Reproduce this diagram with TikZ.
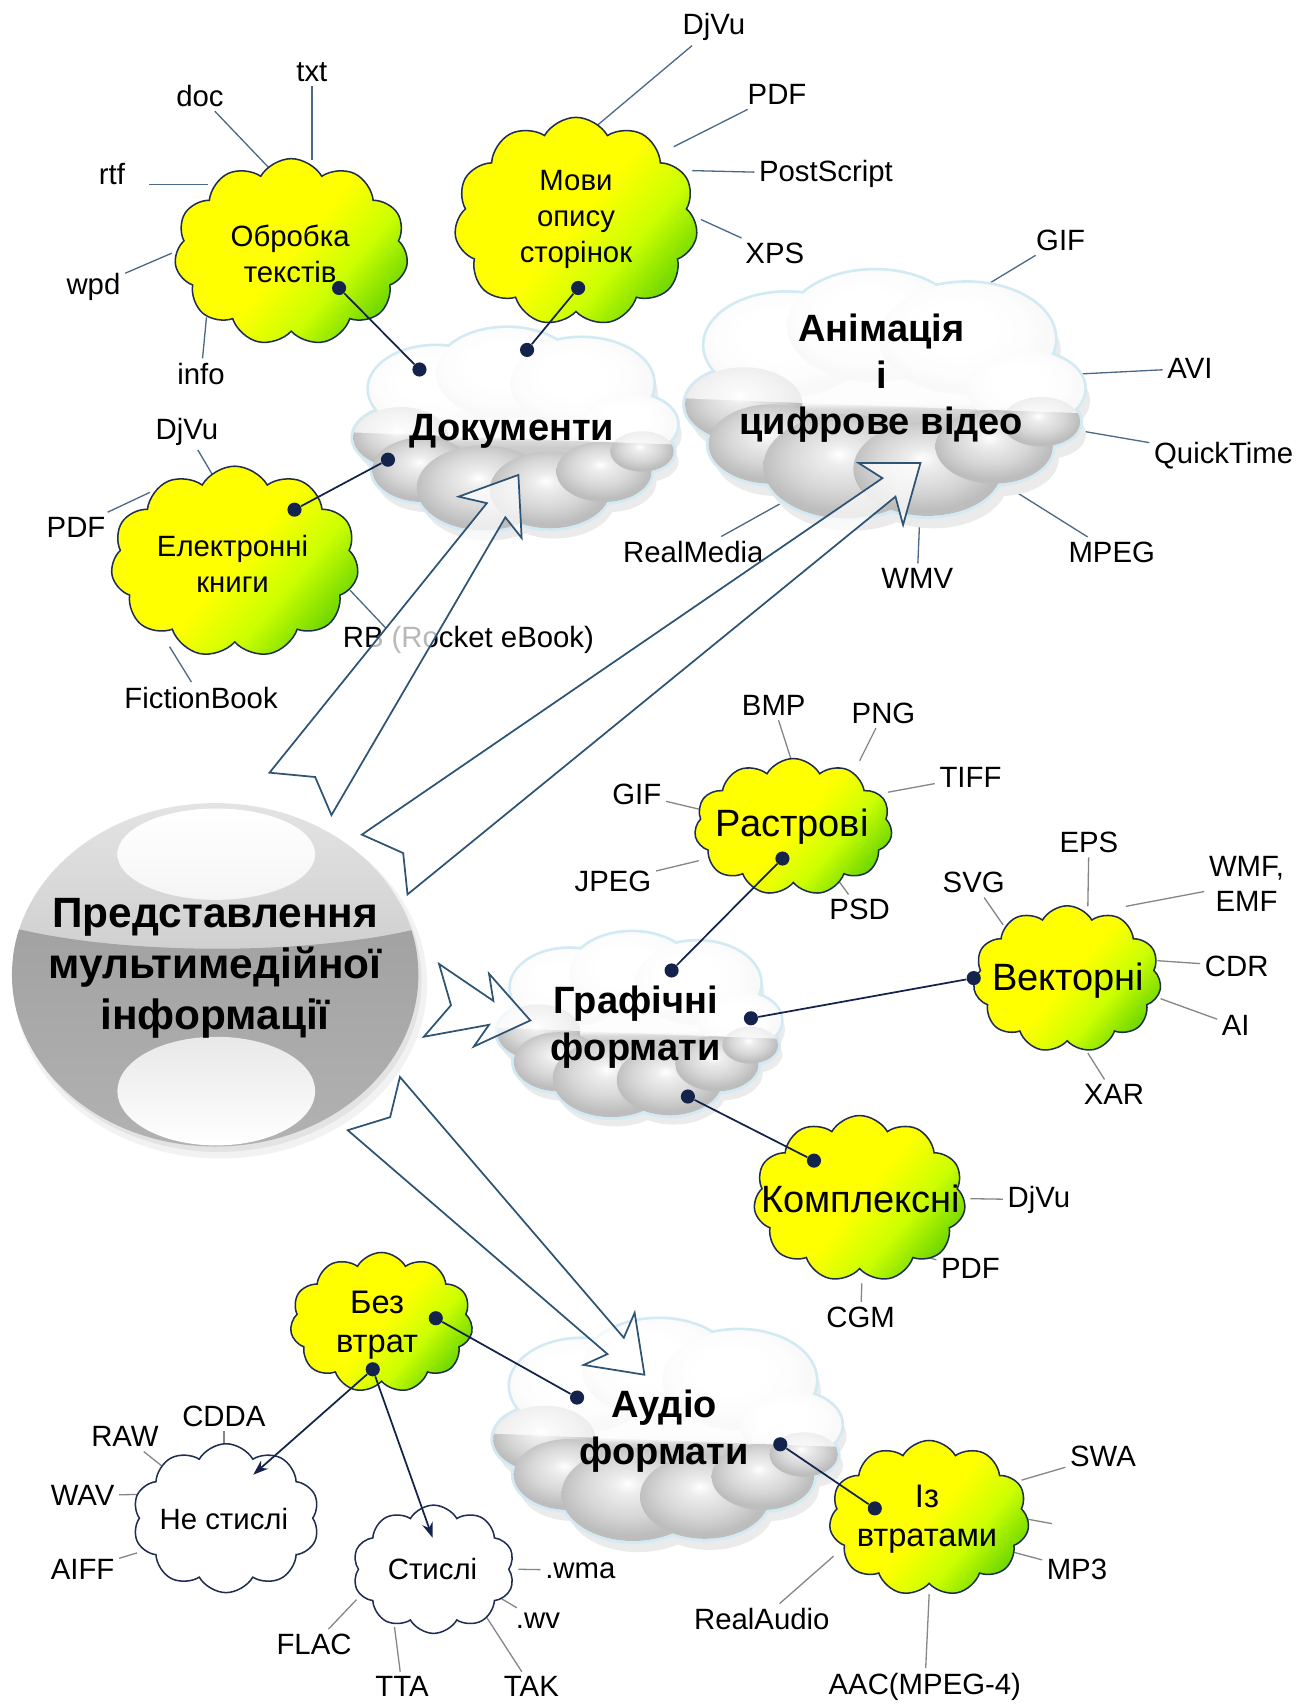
\documentclass[tikz,border=0pt]{standalone}
\usepackage{fontspec}
\setmainfont{Liberation Sans}
\usetikzlibrary{shapes.symbols,arrows.meta,calc}
\definecolor{navy}{HTML}{14234B}
\definecolor{cloudline}{HTML}{1F2D50}
\definecolor{slate}{HTML}{4A6888}
\definecolor{arrline}{HTML}{2E5475}
\definecolor{ylw}{HTML}{FFFF00}
\definecolor{lim}{HTML}{CCFF00}
\definecolor{grn}{HTML}{70D800}
\definecolor{glowc}{HTML}{D2EAF4}
\definecolor{sphtop}{HTML}{E4E4E4}
\definecolor{sphmid}{HTML}{CFCFCF}
\definecolor{sphlowa}{HTML}{A2A2A2}
\definecolor{sphlowb}{HTML}{B2B2B2}
\pgfdeclarehorizontalshading{ygshade}{100bp}{color(0bp)=(ylw); color(50bp)=(ylw); color(63bp)=(lim); color(75bp)=(grn); color(100bp)=(grn)}
\pgfdeclareverticalshading{gfill}{100bp}{color(0bp)=(gray!38); color(25bp)=(gray!38); color(44bp)=(gray!40); color(47bp)=(gray!30); color(49bp)=(gray!6); color(75bp)=(white); color(100bp)=(white)}
\pgfdeclareradialshading{wball}{\pgfpoint{-4bp}{6bp}}{color(0bp)=(white); color(12bp)=(white); color(20bp)=(white!94!gray); color(25bp)=(white!84!gray); color(50bp)=(white!84!gray)}
\pgfdeclareradialshading{gball}{\pgfpoint{-2bp}{6bp}}{color(0bp)=(white); color(5bp)=(gray!14); color(16bp)=(gray!32); color(25bp)=(gray!52); color(50bp)=(gray!52)}
\newcommand\labfont{\fontsize{13.5}{16}\selectfont}
\newcommand\yfont{\fontsize{13.5}{16.5}\selectfont}
\newcommand\ymid{\fontsize{15}{18}\selectfont}
\newcommand\ybig{\fontsize{17.5}{20}\selectfont}
\newcommand\gfont{\bfseries\fontsize{17.5}{21.5}\selectfont}
\newcommand\sfont{\bfseries\fontsize{19.5}{23.5}\selectfont}
\def\gTop{-0.5/-0.4/0.42, -0.05/-0.55/0.45, 0.42/-0.45/0.45, 0.72/-0.05/0.3}
\def\gBot{-0.72/0.08/0.3, -0.58/0.4/0.32, -0.2/0.58/0.42, 0.22/0.6/0.38, 0.56/0.42/0.3, 0.8/0.22/0.2}
\edef\gAll{\gTop,\gBot}
\newcommand\glosscloud[4]{%
 \begin{scope}[shift={(#1,#2)},xscale=#3,yscale=#4]
  \foreach \cx/\cy/\cr in \gAll {\fill[gray!16] ({\cx+0.03},{\cy+0.1}) circle (\cr);}
  \fill[gray!16] (0.03,0.15) ellipse (0.78 and 0.55);
  \foreach \cx/\cy/\cr in \gAll {\draw[glowc,line width=2.6pt] (\cx,\cy) circle (\cr);}
  \draw[glowc,line width=2.6pt] (0,0.05) ellipse (0.78 and 0.55);
  \foreach \cx/\cy/\cr in \gAll {\fill[white] (\cx,\cy) circle (\cr);}
  \shade[shading=gfill] (0,0.05) ellipse (0.78 and 0.55);
  \foreach \cx/\cy/\cr in \gTop {\shade[shading=wball] (\cx,\cy) circle (\cr);}
  \foreach \cx/\cy/\cr in \gBot {\shade[shading=gball] (\cx,\cy) circle (\cr);}
  \begin{scope}
   \clip \foreach \cx/\cy/\cr in \gAll {(\cx,\cy) circle (\cr)} (0,0.05) ellipse (0.78 and 0.55);
   \fill[white,fill opacity=0.72] (-1.2,-1.2) -- (1.2,-1.2) -- (1.2,0.16) .. controls (0.4,0.12) and (-0.4,0.07) .. (-1.2,0.02) -- cycle;
  \end{scope}
 \end{scope}}
\newcommand\fmtlab[5]{\node[lab] (#1) at (#2) {#3}; \coordinate (#1-e) at (#4); \draw[#5] (#1) -- (#1-e);}
\begin{document}
\begin{tikzpicture}[x=0.5pt,y=-0.5pt,
  lab/.style={font=\labfont,inner sep=2pt,align=center},
  lline/.style={draw=slate,line width=0.6pt},
  gline/.style={draw=gray!95,line width=0.6pt},
  conn/.style={draw=navy,line width=0.8pt},
  dot/.style={circle,fill=navy,inner sep=0pt,minimum size=6.5pt},
  ycloud/.style={cloud,cloud puffs=11,cloud puff arc=120,cloud ignores aspect,draw=cloudline,line width=0.7pt,shade,shading=ygshade,shading angle=-40,inner sep=0pt},
  wcloud/.style={cloud,cloud puffs=10,cloud puff arc=120,cloud ignores aspect,draw=cloudline,line width=0.7pt,fill=white,inner sep=0pt},
  ctext/.style={align=center,inner sep=1pt},
  gtitle/.style={font=\gfont,align=center,inner sep=1pt},
  barrow/.style={draw=arrline,line width=0.8pt,fill=white,fill opacity=0.72,line join=miter}]
\useasboundingbox (0,0) rectangle (1197,1568);
\fill[white] (0,0) rectangle (1197,1568);
% ---------- central sphere
\fill[gray!10] (203,905) ellipse (190 and 161);
\fill[gray!22] (201,902) ellipse (187 and 158);
\begin{scope}
 \clip (198,897) ellipse (187 and 158);
 \shade[top color=sphtop,bottom color=sphmid] (5,735) rectangle (395,880);
 \shade[top color=sphlowa,bottom color=sphlowb] (5,852) .. controls (110,880) and (290,880) .. (395,852) -- (395,1060) -- (5,1060) -- cycle;
\end{scope}
\shade[top color=white,bottom color=white!92!gray] (199,786) ellipse (91 and 42);
\shade[top color=white!82!gray,bottom color=white] (199,1004) ellipse (91 and 50);
\node[font=\sfont,align=center] (main) at (198,891) {Представлення\\мультимедійної\\інформації};
% ---------- labels and leader lines
\fmtlab{lTxt}{287,66}{txt}{287,147}{lline}
\fmtlab{lDoc}{184,88}{doc}{248,155}{lline}
\node[lab] (lRtf) at (103,160) {rtf};
\coordinate (lRtf-e) at (191,170);
\draw[lline] ([xshift=9pt]lRtf.east |- lRtf-e) -- (lRtf-e);
\fmtlab{lWpd}{86,264}{wpd}{158,233}{lline}
\fmtlab{lInfo}{185,344}{info}{190,292}{lline}
\fmtlab{lDjv1}{657,25}{DjVu}{550,115}{lline}
\fmtlab{lPdf1}{715,87}{PDF}{620,135}{lline}
\fmtlab{lPs}{760,160}{PostScript}{637,157}{lline}
\fmtlab{lXps}{713,233}{XPS}{645,202}{lline}
\fmtlab{lDjv2}{172,397}{DjVu}{195,436}{lline}
\fmtlab{lPdf2}{70,485}{PDF}{138,453}{lline}
\fmtlab{lFb}{185,642}{FictionBook}{156,595}{lline}
\node[lab] (lRb) at (431,589) {RB (Rocket eBook)};
\coordinate (lRb-e) at (322,543);
\draw[lline] ([xshift=22pt,yshift=-3pt]lRb.north west) -- (lRb-e);
\fmtlab{lGif1}{976,221}{GIF}{895,270}{lline}
\fmtlab{lAvi}{1095,339}{AVI}{996,344}{lline}
\fmtlab{lQt}{1126,419}{QuickTime}{980,394}{lline}
\fmtlab{lMpeg}{1023,508}{MPEG}{937,454}{lline}
\fmtlab{lWmv}{844,532}{WMV}{846,485}{lline}
\fmtlab{lRm}{638,508}{RealMedia}{735,454}{lline}
\fmtlab{lBmp}{712,649}{BMP}{729,702}{gline}
\fmtlab{lPng}{813,656}{PNG}{791,700}{gline}
\fmtlab{lTiff}{893,715}{TIFF}{817,729}{gline}
\fmtlab{lGif2}{586,731}{GIF}{645,745}{gline}
\fmtlab{lJpeg}{564,811}{JPEG}{643,792}{gline}
\fmtlab{lPsd}{791,837}{PSD}{772,811}{gline}
\fmtlab{lEps}{1002,775}{EPS}{1001,834}{gline}
\fmtlab{lSvg}{896,812}{SVG}{923,851}{gline}
\fmtlab{lWmf}{1147,813}{WMF,\\EMF}{1036,834}{gline}
\fmtlab{lCdr}{1138,889}{CDR}{1065,884}{gline}
\fmtlab{lAi}{1137,944}{AI}{1068,919}{gline}
\fmtlab{lXar}{1025,1007}{XAR}{1001,969}{gline}
\fmtlab{lDjv3}{956,1104}{DjVu}{893,1103}{gline}
\fmtlab{lPdf3}{893,1167}{PDF}{853,1157}{gline}
\fmtlab{lCgm}{792,1212}{CGM}{793,1181}{gline}
\fmtlab{lRaw}{115,1322}{RAW}{149,1349}{gline}
\fmtlab{lCdda}{206,1303}{CDDA}{206,1330}{gline}
\fmtlab{lWav}{76,1376}{WAV}{137,1375}{gline}
\fmtlab{lAiff}{76,1444}{AIFF}{126,1429}{gline}
\fmtlab{lWma}{534,1445}{.wma}{477,1444}{gline}
\fmtlab{lWv}{495,1491}{.wv}{458,1469}{gline}
\fmtlab{lFlac}{289,1513}{FLAC}{328,1472}{gline}
\fmtlab{lTta}{370,1552}{TTA}{363,1497}{gline}
\fmtlab{lTak}{489,1552}{TAK}{447,1487}{gline}
\fmtlab{lSwa}{1015,1340}{SWA}{940,1362}{gline}
\fmtlab{lMp3}{991,1444}{MP3}{924,1426}{gline}
\fmtlab{lRa}{701,1490}{RealAudio}{767,1432}{gline}
\fmtlab{lAac}{851,1552}{AAC(MPEG-4)}{855,1467}{gline}
\coordinate (stubA) at (968,1402);
\coordinate (stubB) at (946,1398);
\draw[gline] (stubA) -- (stubB);
% ---------- glossy grey clouds
\glosscloud{474}{395}{146}{93}
\node[gtitle] (tDoc) at (471,397) {Документи};
\glosscloud{814}{363}{180}{114}
\node[gtitle] (tAn) at (811,348) {Анімація\\і\\цифрове відео};
\glosscloud{588}{943}{128}{85}
\node[gtitle] (tGr) at (585,945) {Графічні\\формати};
\glosscloud{614}{1316}{157}{102}
\node[gtitle] (tAu) at (611,1317) {Аудіо\\формати};
% ---------- yellow and white clouds
\node[ycloud,minimum width=107.5pt,minimum height=86pt] (cObr) at (268,232) {};
\node[ctext,font=\yfont] (tObr) at (267,234) {Обробка\\текстів};
\node[ycloud,minimum width=112pt,minimum height=96pt] (cMov) at (530,204) {};
\node[ctext,font=\yfont] (tMov) at (530,202) {Мови\\опису\\сторінок};
\node[ycloud,minimum width=114pt,minimum height=88pt] (cEl) at (216,517) {};
\node[ctext,font=\yfont] (tEl) at (214,519) {Електронні\\книги};
\node[ycloud,minimum width=91pt,minimum height=63pt] (cRas) at (730,761) {};
\node[ctext,font=\ybig] (tRas) at (729,761) {Растрові};
\node[ycloud,minimum width=86.5pt,minimum height=67.5pt] (cVek) at (982,901) {};
\node[ctext,font=\ybig] (tVek) at (983,902) {Векторні};
\node[ycloud,minimum width=97.5pt,minimum height=76.5pt] (cKom) at (791,1103) {};
\node[ctext,font=\ybig] (tKom) at (792,1103) {Комплексні};
\node[ycloud,minimum width=84pt,minimum height=64.5pt] (cBez) at (351,1217) {};
\node[ctext,font=\ymid] (tBez) at (347,1219) {Без\\втрат};
\node[ycloud,minimum width=92pt,minimum height=71.5pt] (cIz) at (855,1397) {};
\node[ctext,font=\ymid] (tIz) at (853,1398) {Із\\втратами};
\node[wcloud,minimum width=86pt,minimum height=68.5pt] (cNe) at (208,1397) {};
\node[ctext,font=\yfont] (tNe) at (206,1398) {Не стислі};
\node[wcloud,minimum width=74.5pt,minimum height=59pt] (cSt) at (399,1444) {};
\node[ctext,font=\yfont] (tSt) at (398,1444) {Стислі};
% ---------- connectors with dots
\node[dot] (dObr) at (312,265) {};
\node[dot] (dDoc1) at (386,340) {};
\node[dot] (dMov) at (532,265) {};
\node[dot] (dDoc2) at (485,322) {};
\node[dot] (dEl) at (271,469) {};
\node[dot] (dDoc3) at (357,423) {};
\node[dot] (dRas) at (720,790) {};
\node[dot] (dGr1) at (618,893) {};
\node[dot] (dVek) at (896,900) {};
\node[dot] (dGr2) at (691,937) {};
\node[dot] (dKom) at (749,1068) {};
\node[dot] (dGr3) at (633,1009) {};
\node[dot] (dBez1) at (401,1213) {};
\node[dot] (dAud1) at (531,1286) {};
\node[dot] (dBez2) at (343,1260) {};
\node[dot] (dIz) at (805,1388) {};
\node[dot] (dAud2) at (718,1329) {};
\coordinate (tgNe) at (233,1357);
\coordinate (tgSt) at (398,1415);
\draw[conn] (dObr) -- (dDoc1);
\draw[conn] (dMov) -- (dDoc2);
\draw[conn] (dEl) -- (dDoc3);
\draw[conn] (dRas) -- (dGr1);
\draw[conn] (dVek) -- (dGr2);
\draw[conn] (dKom) -- (dGr3);
\draw[conn] (dBez1) -- (dAud1);
\draw[conn] (dIz) -- (dAud2);
\draw[conn,-{Stealth[length=7pt,width=5pt]}] (dBez2) -- (tgNe);
\draw[conn,-{Stealth[length=7pt,width=5pt]}] (dBez2) -- (tgSt);
% ---------- block arrows
\draw[barrow] (248,711) -- (448,463) -- (422,457) -- (477,437) -- (480,495) -- (465,476) -- (305,750) -- (290,715) -- cycle;
\draw[barrow] (333,768) -- (812,440) -- (790,426) -- (847,426) -- (831,483) -- (824,457) -- (375,823) -- (371,785) -- cycle;
\draw[barrow] (404,887) -- (454,921) -- (450,896) -- (488,939) -- (436,963) -- (450,943) -- (390,954) -- (415,925) -- cycle;
\draw[barrow] (368,991) -- (574,1231) -- (584,1208) -- (593,1265) -- (537,1256) -- (559,1246) -- (320,1040) -- (359,1028) -- cycle;
\end{tikzpicture}
\end{document}
